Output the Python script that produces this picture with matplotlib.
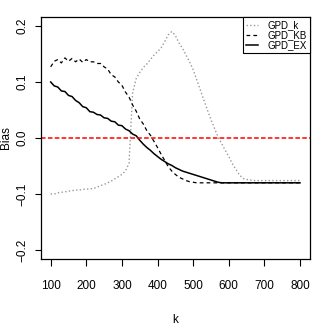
import numpy as np
import matplotlib
matplotlib.use("Agg")
import matplotlib.pyplot as plt
from matplotlib.lines import Line2D

plt.rcParams['font.family'] = ['Liberation Sans Narrow', 'Liberation Sans', 'DejaVu Sans']

# bias curves, k = 100, 110, ..., 800
k = np.arange(100, 801, 10)

gpd_k = [-0.100, -0.100, -0.098, -0.097, -0.096, -0.095, -0.094, -0.093, -0.093, -0.092,
         -0.091, -0.091, -0.090, -0.088, -0.085, -0.083, -0.080, -0.077, -0.073, -0.069,
         -0.065, -0.059, -0.045, 0.080, 0.106, 0.117, 0.126, 0.132, 0.140, 0.148,
         0.154, 0.161, 0.172, 0.184, 0.190, 0.183, 0.170, 0.160, 0.148, 0.136,
         0.122, 0.104, 0.086, 0.068, 0.050, 0.033, 0.017, 0.002, -0.010, -0.022,
         -0.033, -0.046, -0.056, -0.066, -0.072, -0.074, -0.075, -0.076, -0.076, -0.076,
         -0.076, -0.076, -0.076, -0.076, -0.076, -0.076, -0.076, -0.076, -0.076, -0.076,
         -0.076]

gpd_kb = [0.127, 0.137, 0.140, 0.134, 0.143, 0.137, 0.142, 0.136, 0.141, 0.135,
          0.140, 0.136, 0.136, 0.133, 0.133, 0.127, 0.123, 0.113, 0.109, 0.100,
          0.094, 0.082, 0.073, 0.059, 0.048, 0.034, 0.025, 0.013, 0.005, -0.006,
          -0.017, -0.029, -0.040, -0.051, -0.059, -0.065, -0.070, -0.073, -0.076, -0.078,
          -0.079, -0.080, -0.080, -0.080, -0.080, -0.080, -0.080, -0.080, -0.080, -0.080,
          -0.080, -0.080, -0.080, -0.080, -0.080, -0.080, -0.080, -0.080, -0.080, -0.080,
          -0.080, -0.080, -0.080, -0.080, -0.080, -0.080, -0.080, -0.080, -0.080, -0.080,
          -0.080]

gpd_ex = [0.100, 0.093, 0.091, 0.084, 0.083, 0.076, 0.074, 0.067, 0.063, 0.056,
          0.054, 0.047, 0.046, 0.042, 0.041, 0.036, 0.035, 0.030, 0.029, 0.023,
          0.022, 0.016, 0.013, 0.007, 0.004, -0.004, -0.011, -0.017, -0.022, -0.028,
          -0.033, -0.038, -0.042, -0.046, -0.049, -0.053, -0.056, -0.059, -0.061, -0.063,
          -0.065, -0.067, -0.069, -0.071, -0.073, -0.075, -0.077, -0.079, -0.080, -0.080,
          -0.080, -0.080, -0.080, -0.080, -0.080, -0.080, -0.080, -0.080, -0.080, -0.080,
          -0.080, -0.080, -0.080, -0.080, -0.080, -0.080, -0.080, -0.080, -0.080, -0.080,
          -0.080]

series_names = ["GPD_k", "GPD_KB", "GPD_EX"]
x_ticks = [100, 200, 300, 400, 500, 600, 700, 800]
y_ticks = [-0.2, -0.1, 0.0, 0.1, 0.2]
y_labels = ["\u22120.2", "\u22120.1", "0.0", "0.1", "0.2"]

fig = plt.figure(figsize=(3.2, 3.27), dpi=100)
ax = fig.add_axes([40.7 / 320, 68 / 327, 269.3 / 320, 242 / 327])

ax.plot(k, gpd_k, color='0.6', ls=':', lw=1.0)
ax.plot(k, gpd_kb, color='black', ls=(0, (3, 2.5)), lw=0.9)
ax.plot(k, gpd_ex, color='black', ls='-', lw=1.1)
ax.axhline(0, color='red', ls=(0, (3, 1.5)), lw=1.1)

ax.set_xlim(72, 828)
ax.set_ylim(-0.216, 0.216)
ax.set_xticks(x_ticks)
ax.set_xticklabels([str(v) for v in x_ticks], fontsize=8.5)
ax.set_yticks(y_ticks)
ax.set_yticklabels(y_labels, fontsize=8.5, rotation=90, va='center')
ax.tick_params(axis='x', length=5, width=0.8, pad=10)
ax.tick_params(axis='y', length=4.5, width=0.8, pad=4)
for s in ax.spines.values():
    s.set_linewidth(0.9)

ax.set_xlabel("k", fontsize=8.5, labelpad=16)
ax.set_ylabel("Bias", fontsize=8.5)
ax.yaxis.set_label_coords(-0.105, 0.5)

handles = [Line2D([], [], color='0.6', ls=':', lw=1.0),
           Line2D([], [], color='black', ls=(0, (3, 2.5)), lw=0.9),
           Line2D([], [], color='black', ls='-', lw=1.1)]
leg = ax.legend(handles, series_names, loc='upper right', fontsize=7,
                borderaxespad=0, borderpad=0.3, labelspacing=0.0,
                handlelength=1.2, handletextpad=1.0, fancybox=False,
                framealpha=1, edgecolor='black')
leg.get_frame().set_linewidth(0.8)

fig.savefig("out.png", dpi=100)
